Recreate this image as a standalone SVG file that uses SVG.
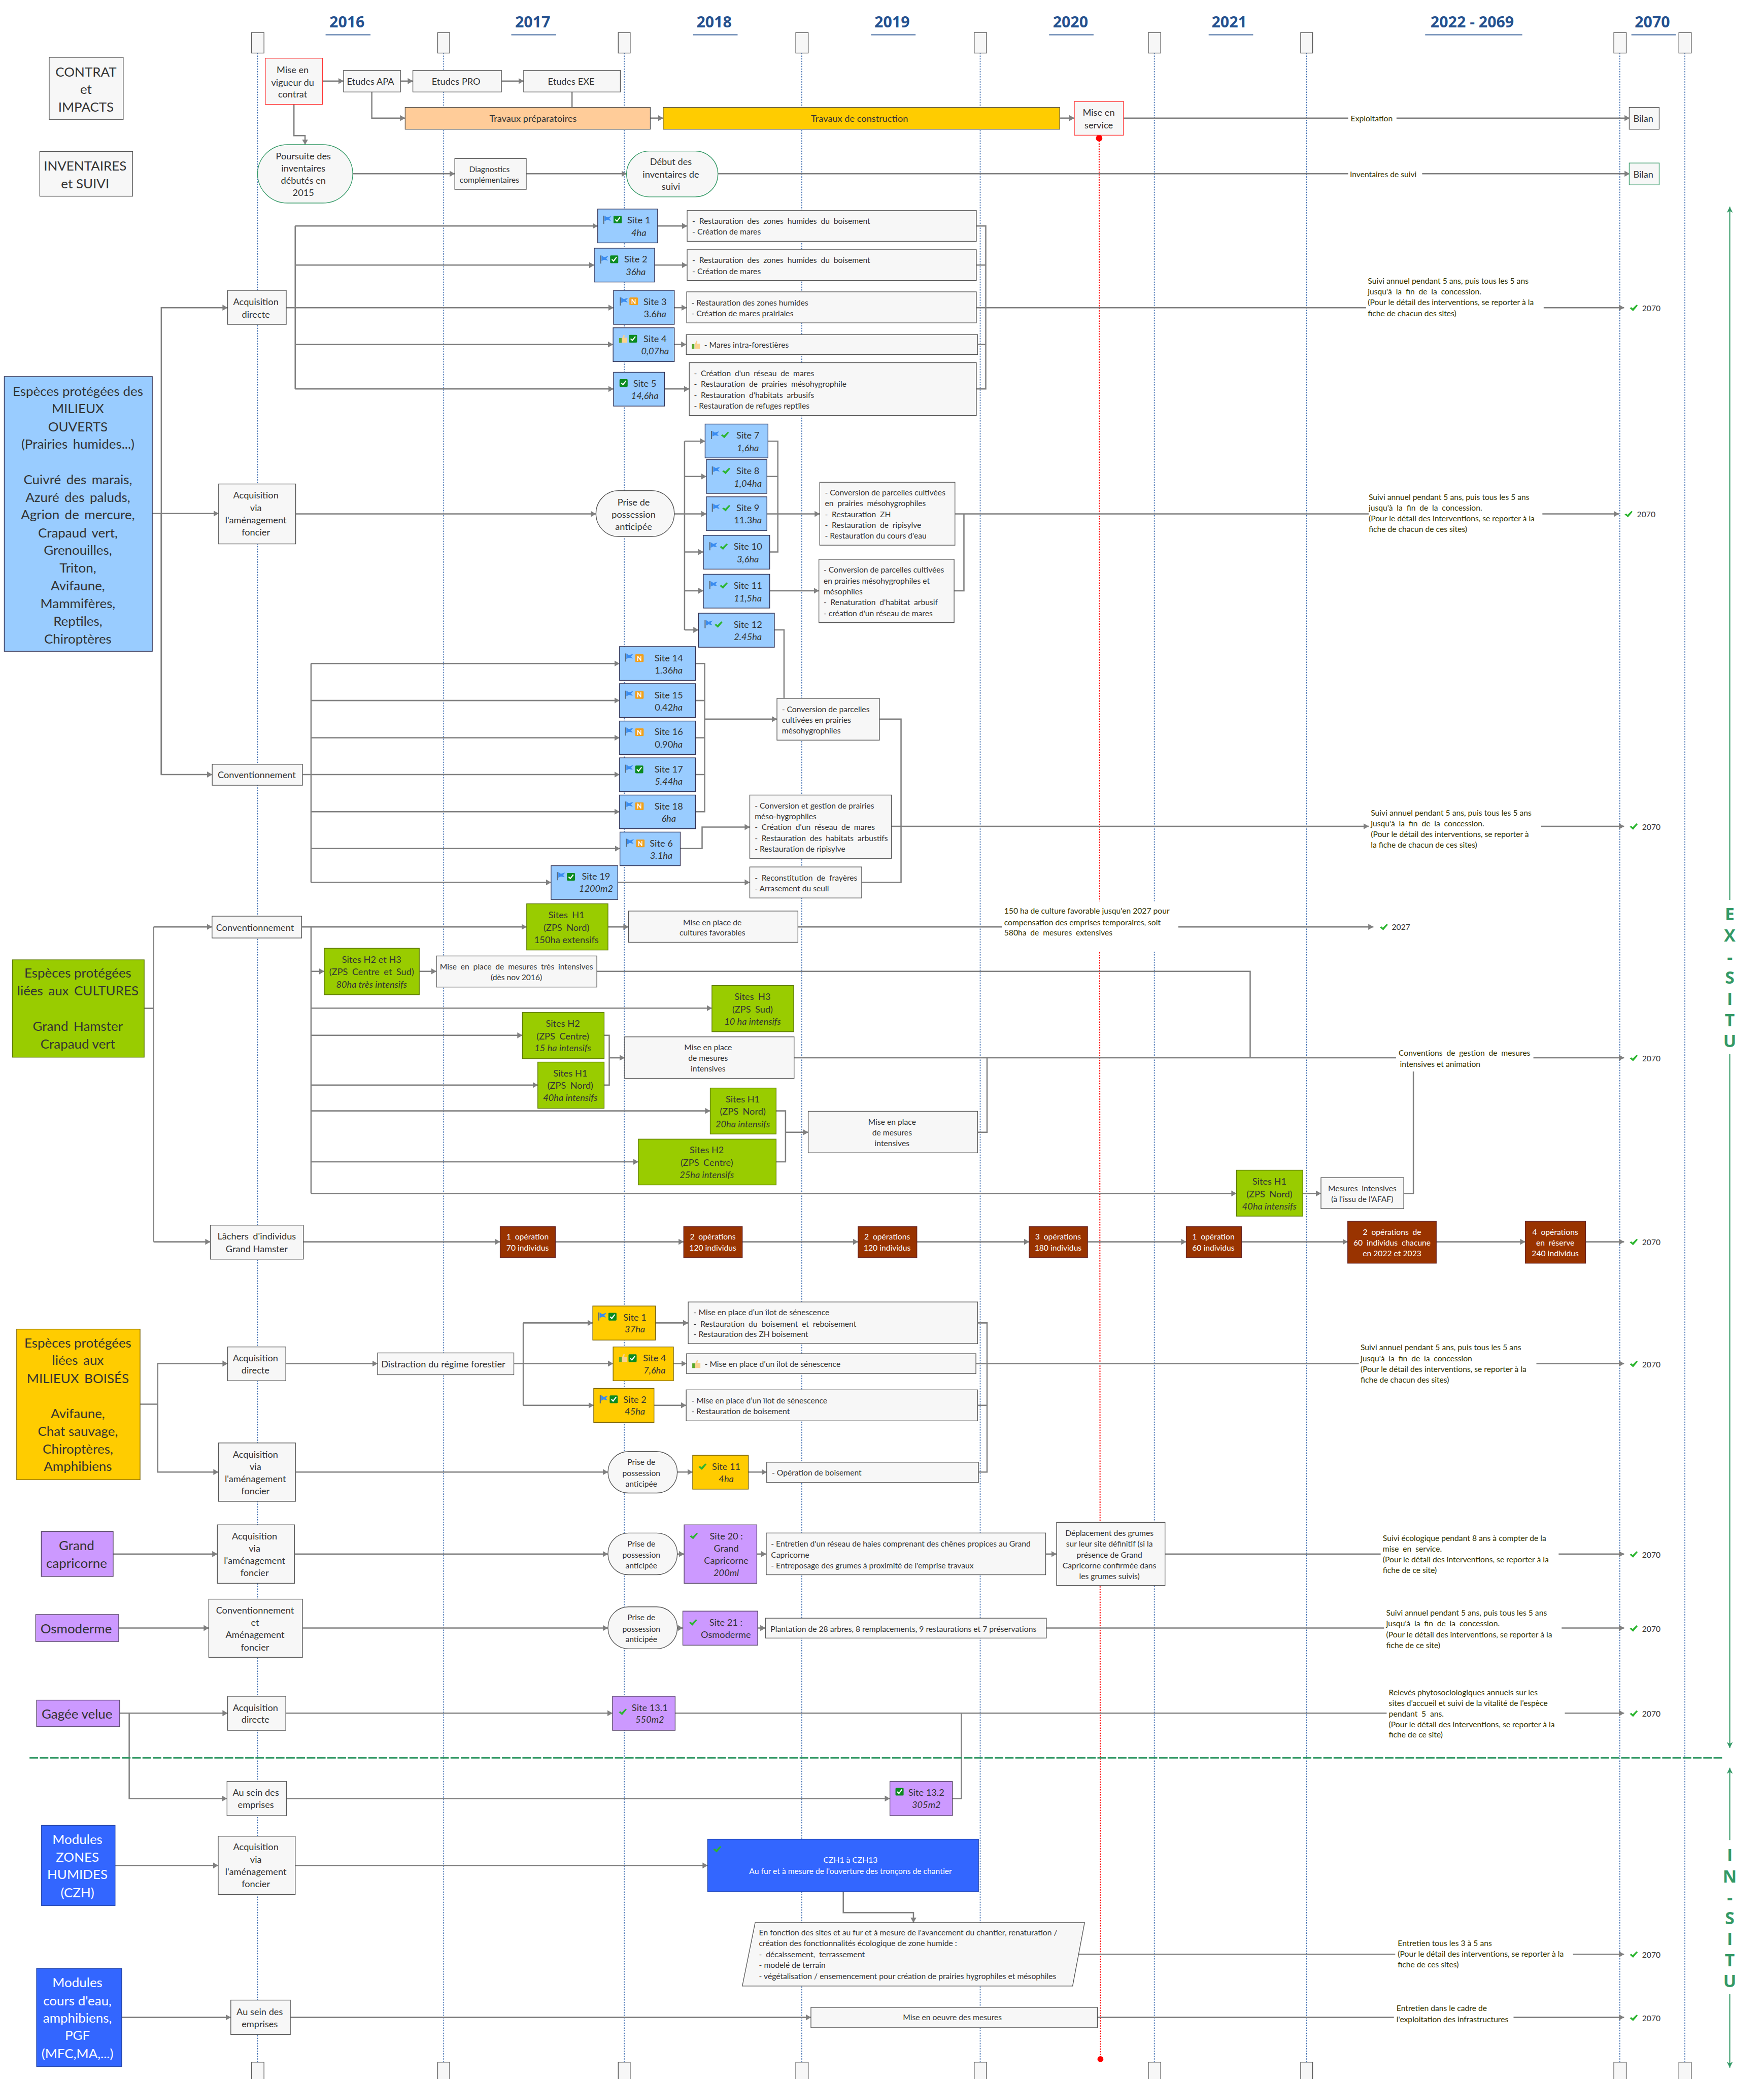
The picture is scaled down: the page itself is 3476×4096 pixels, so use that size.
<svg xmlns="http://www.w3.org/2000/svg" width="3476" height="4096" viewBox="0 0 3476 4096">
<style>
text{font-family:Lato,"Open Sans",sans-serif;fill:#333}
.f36{font-family:"Open Sans",sans-serif;font-size:36px;font-weight:700;fill:#24518f}
.f40{font-family:"Open Sans",sans-serif;font-size:40px;font-weight:700;fill:#339966}
.f31{font-size:30.8px}.f22{font-size:21.6px}.f19{font-size:18.6px}
.c{text-anchor:middle}.i{font-style:italic}.ws{word-spacing:4.5px}
text.w{fill:#fff}text.lab{fill:#330}
.b{fill:#f7f7f7;stroke:#555;stroke-width:1.6}
.g{stroke:#339966}.r{stroke:#f33}
.sb{fill:#99ccff;stroke:#335;stroke-width:1.6}
.sg{fill:#99cc00;stroke:#5d7a00;stroke-width:1.6}
.sy{fill:#ffcc00;stroke:#7a6200;stroke-width:1.6}
.sp{fill:#cc99ff;stroke:#546;stroke-width:1.6}
.sn{fill:#3366ff;stroke:#24a;stroke-width:1.6}
.so{fill:#993300;stroke:#622;stroke-width:1.6}
.ll{stroke:#3d6cb0;stroke-width:2;stroke-dasharray:3 3;fill:none}
.rl{stroke:#f00;stroke-width:2.4;stroke-dasharray:3 3;fill:none}
.k{fill:none;stroke:#808080;stroke-width:3}
.a{marker-end:url(#ar)}
.gl{fill:none;stroke:#339966;stroke-width:2.4}
.u{stroke:#24518f;stroke-width:2}
</style>
<defs>
<marker id="ar" markerUnits="userSpaceOnUse" markerWidth="13" markerHeight="16" refX="12" refY="8" orient="auto"><path d="M0,1L12,8L0,15z" fill="#808080"/></marker>
<marker id="ga" markerUnits="userSpaceOnUse" markerWidth="20" markerHeight="20" refX="16" refY="10" orient="auto"><path d="M2,3L16,10L2,17L6,10z" fill="#339966"/></marker>
<g id="flag"><path d="M1,0V19" stroke="#5a6a7a" stroke-width="2.5"/><path d="M3,0L9,4L19,1L14,7L18,12L9,10L3,13z" fill="#3a8cf0"/></g>
<g id="chk"><rect width="19" height="18" rx="2" fill="#0b8a20"/><path d="M4,9L8,13L15,4" fill="none" stroke="#fff" stroke-width="2.6"/></g>
<path id="tick" d="M0,8L4,6L7,9L16,0L19,2L8,15z" fill="#2bb52f"/>
<g id="nn"><rect width="20" height="18" rx="2" fill="#f0a020"/><text x="10" y="15" font-size="15" font-weight="700" text-anchor="middle" style="fill:#fff">N</text></g>
<g id="thumb"><rect y="8" width="6" height="11" fill="#5aa82c"/><path d="M7,8L11,0L13,1L12,7H19V19H7z" fill="#fbd28e"/></g>
</defs>
<rect width="3476" height="4096" fill="#fff"/>
<g transform="scale(0.84308)">
<g id="lifelines">
<path class="ll" d="M602,124V4819M1037,124V4819M1459,124V4819M1874,124V4819M2291,124V4819M2698,124V4819M3054,124V4819M3786,124V4819M3938,124V4819"/>
<path class="rl" d="M2569,323L2572,4812"/>
<ellipse cx="2569" cy="323" rx="7.5" ry="7.5" fill="#f00"/><ellipse cx="2572" cy="4812" rx="7" ry="7" fill="#f00"/>
<g class="b">
<rect x="588" y="76" width="29" height="48"/><rect x="1023" y="76" width="28" height="48"/><rect x="1445" y="76" width="28" height="48"/><rect x="1860" y="76" width="29" height="48"/><rect x="2277" y="76" width="29" height="48"/><rect x="2684" y="76" width="29" height="48"/><rect x="3040" y="76" width="28" height="48"/><rect x="3772" y="76" width="29" height="48"/><rect x="3924" y="76" width="29" height="48"/>
<rect x="588" y="4819" width="29" height="48"/><rect x="1023" y="4819" width="28" height="48"/><rect x="1445" y="4819" width="28" height="48"/><rect x="1860" y="4819" width="29" height="48"/><rect x="2277" y="4819" width="29" height="48"/><rect x="2684" y="4819" width="29" height="48"/><rect x="3040" y="4819" width="28" height="48"/><rect x="3772" y="4819" width="29" height="48"/><rect x="3924" y="4819" width="29" height="48"/>
</g>
</g>
<g id="years">
<text class="f36 c" x="811" y="64">2016</text><path class="u" d="M761,81.5H866"/>
<text class="f36 c" x="1245" y="64">2017</text><path class="u" d="M1195,81.5H1300"/>
<text class="f36 c" x="1669" y="64">2018</text><path class="u" d="M1620,81.5H1724"/>
<text class="f36 c" x="2085" y="64">2019</text><path class="u" d="M2036,81.5H2140"/>
<text class="f36 c" x="2502" y="64">2020</text><path class="u" d="M2452,81.5H2556"/>
<text class="f36 c" x="2873" y="64">2021</text><path class="u" d="M2825,81.5H2929"/>
<text class="f36 c" x="3441" y="64">2022 - 2069</text><path class="u" d="M3331,81.5H3558"/>
<text class="f36 c" x="3862" y="64">2070</text><path class="u" d="M3813,81.5H3917"/>
</g>
<g id="connectors">
<path class="k a" d="M754,189.5H803"/><path class="k a" d="M936,189.5H965"/><path class="k a" d="M1172,189.5H1224"/>
<path class="k a" d="M869,215V276H947"/><path class="k" d="M1337,215V251"/>
<path class="k a" d="M1520,276H1550"/><path class="k a" d="M2477,276H2511"/><path class="k" d="M2626,276H3151"/><path class="k a" d="M3264,276H3809"/>
<path class="k a" d="M687,244V317H713V338"/>
<path class="k a" d="M824,406H1063"/><path class="k a" d="M1230,406H1465"/><path class="k" d="M1678,406H3151"/><path class="k a" d="M3324,406H3809"/>
<path class="k a" d="M356,1200H511"/><path class="k a" d="M377,1810V719H532"/><path class="k a" d="M377,1200V1810H496"/>
<path class="k a" d="M690,528H1397"/><path class="k a" d="M690,619.5H1389"/><path class="k a" d="M669,719H1434"/><path class="k a" d="M690,805H1433"/><path class="k a" d="M690,909H1434"/><path class="k" d="M690,528V909"/>
<path class="k a" d="M1537,528H1606"/><path class="k a" d="M1530,619.5H1606"/><path class="k a" d="M1576,719H1605"/><path class="k a" d="M1576,805H1604"/><path class="k a" d="M1553,909H1611"/>
<path class="k" d="M2282,528H2304V909H2282M2282,619.5H2304M2285,805H2304"/><path class="k" d="M2282,719H3193"/><path class="k a" d="M3608,719H3796"/>
<path class="k a" d="M691,1201H1393"/>
<path class="k" d="M1576,1201H1600M1600,1031V1472"/>
<path class="k a" d="M1600,1031H1648"/><path class="k a" d="M1600,1113.5H1651"/><path class="k a" d="M1600,1201H1651"/><path class="k a" d="M1600,1290H1644"/><path class="k a" d="M1600,1380.5H1644"/><path class="k a" d="M1600,1472H1632.5"/>
<path class="k" d="M1795,1031H1818V1290H1799M1792.5,1113.5H1818"/><path class="k a" d="M1792.5,1201H1916"/><path class="k a" d="M1799,1380.5H1914"/>
<path class="k" d="M2232,1201H3199M2253,1201V1380.5H2230"/><path class="k a" d="M3605,1201H3784"/>
<path class="k" d="M727,1550.6V2062"/>
<path class="k a" d="M727,1550.6H1448"/><path class="k a" d="M727,1637H1448"/><path class="k a" d="M727,1724H1448"/><path class="k a" d="M707,1810H1448"/><path class="k a" d="M727,1897H1448"/><path class="k a" d="M727,1983H1449"/><path class="k a" d="M727,2062H1288"/>
<path class="k" d="M1625.5,1550.6H1647V1897H1625.5M1625.5,1637H1647M1625.5,1724H1647M1625.5,1810H1647"/><path class="k a" d="M1647,1680.5H1816"/>
<path class="k" d="M1810,1472H1832.5V1632"/>
<path class="k a" d="M1590,1983H1641V1932.8H1752.5"/><path class="k a" d="M1444,2062H1752.5"/>
<path class="k" d="M2055.5,1680.5H2106V2062H2014"/><path class="k a" d="M2083.6,1931H3199"/><path class="k a" d="M3602,1931H3796"/>
<path class="k" d="M337,2356.4H359M359,2166V2902"/><path class="k a" d="M359,2166H495.6"/><path class="k a" d="M359,2902H491.7"/>
<path class="k" d="M727,2166V2789"/>
<path class="k a" d="M705,2166H1231"/><path class="k a" d="M1421,2166H1469"/><path class="k" d="M1865,2166H2342"/><path class="k a" d="M2754,2166H3210"/>
<path class="k a" d="M727,2270H758"/><path class="k a" d="M980,2270H1020"/><path class="k" d="M1395,2270H2922V2472"/>
<path class="k a" d="M727,2356H1664"/><path class="k a" d="M727,2419.5H1221"/><path class="k a" d="M727,2535.6H1257"/>
<path class="k" d="M1412,2419.5H1424V2535.6H1412"/><path class="k a" d="M1424,2472H1460"/><path class="k" d="M1856,2472H3263"/><path class="k a" d="M3584,2472H3796"/>
<path class="k a" d="M727,2596H1660"/><path class="k a" d="M727,2715H1492"/><path class="k" d="M1814,2596H1836V2715H1814"/><path class="k a" d="M1836,2646H1889"/><path class="k" d="M2285,2646H2307V2472"/>
<path class="k a" d="M727,2789H2890"/><path class="k a" d="M3045,2789H3087.5"/><path class="k" d="M3281,2789H3303.5V2504"/>
<path class="k a" d="M709,2902H1169"/><path class="k a" d="M1298,2902H1598"/><path class="k a" d="M1735,2902H2005.6"/><path class="k a" d="M2143,2902H2405.5"/><path class="k a" d="M2542,2902H2772.6"/><path class="k a" d="M2901.5,2902H3150"/><path class="k a" d="M3357,2902H3565"/><path class="k a" d="M3706,2902H3796"/>
<path class="k" d="M327,3281.5H368.6"/><path class="k a" d="M368.6,3440V3186.5H532"/><path class="k a" d="M368.6,3281.5V3440H510.6"/>
<path class="k a" d="M668,3186.5H882.5"/><path class="k" d="M1223,3091.5V3284"/><path class="k a" d="M1223,3091.5H1385.5"/><path class="k a" d="M1201,3186.5H1433"/><path class="k a" d="M1223,3284H1387.7"/>
<path class="k a" d="M1532,3091.5H1608.5"/><path class="k a" d="M1574,3186.5H1604.7"/><path class="k a" d="M1528.6,3284H1603.8"/>
<path class="k" d="M2285,3091.5H2307V3440H2287M2285,3284H2307"/><path class="k" d="M2281,3186.5H3176"/><path class="k a" d="M3591,3186.5H3796"/>
<path class="k a" d="M690.6,3440H1421"/><path class="k a" d="M1583,3440H1619"/><path class="k a" d="M1749,3440H1792"/>
<path class="k a" d="M264.5,3631.6H508"/><path class="k a" d="M688.4,3631.6H1421"/><path class="k a" d="M1583,3631.6H1599"/><path class="k a" d="M1769,3631.6H1791"/><path class="k a" d="M2444,3631.6H2469.5"/><path class="k" d="M2723,3631.6H3227"/><path class="k a" d="M3643,3631.6H3796"/>
<path class="k a" d="M277.5,3804.5H488"/><path class="k a" d="M707,3804.5H1421"/><path class="k a" d="M1583,3804.5H1596"/><path class="k a" d="M1771,3804.5H1789"/><path class="k" d="M2445.6,3804.5H3235"/><path class="k a" d="M3650,3804.5H3796"/>
<path class="k a" d="M279.7,4003.5H532"/><path class="k a" d="M668,4003.5H1431.6"/><path class="k" d="M1578,4003.5H3241"/><path class="k a" d="M3657.4,4003.5H3796"/>
<path class="k" d="M2226,4203H2247V4003.5"/><path class="k a" d="M302,4003.5V4203H530.6"/><path class="k a" d="M669.6,4203H2080"/>
<path class="k a" d="M269,4359.4H510"/><path class="k a" d="M690,4359.4H1654"/><path class="k a" d="M1971,4420.7V4469.5H2135V4493"/>
<path class="k" d="M2520,4567H3261"/><path class="k a" d="M3676.6,4567H3796"/>
<path class="k a" d="M284.4,4714.4H539.5"/><path class="k a" d="M678.6,4714.4H1895.4"/><path class="k" d="M2565,4714.4H3258"/><path class="k a" d="M3537.6,4714.4H3796"/>
<path d="M69,4108H4027" fill="none" stroke="#339966" stroke-width="3.4" stroke-dasharray="20 4"/>
<path class="gl" style="marker-end:url(#ga)" d="M4043,2103V483"/>
<path class="gl" style="marker-end:url(#ga)" d="M4043,2463V4085"/>
<path class="gl" style="marker-end:url(#ga)" d="M4043,4300V4131"/>
<path class="gl" style="marker-end:url(#ga)" d="M4043,4660V4832"/>
<rect x="2342" y="2106" width="412" height="118" fill="#fff"/>
</g>
<g id="n-contrat"><rect class="b" x="115" y="134" width="173" height="145"/><text class="f31 c"><tspan x="201" y="178.6">CONTRAT</tspan><tspan x="201" y="220">et</tspan><tspan x="201" y="261.5">IMPACTS</tspan></text></g>
<g id="n-inventaires"><rect class="b" x="93" y="354" width="217" height="104.5"/><text class="f31 c"><tspan x="199" y="398.6">INVENTAIRES</tspan><tspan x="199" y="440">et SUIVI</tspan></text></g>
<g id="n-vigueur"><rect class="b r" x="620" y="136" width="134" height="108"/><text class="f22 c"><tspan x="684" y="171">Mise en</tspan><tspan x="684" y="200">vigueur du</tspan><tspan x="684" y="228">contrat</tspan></text></g>
<g id="n-apa"><rect class="b" x="803" y="164.5" width="133" height="50.5"/><text class="f22 c" x="866" y="198">Etudes APA</text></g>
<g id="n-pro"><rect class="b" x="965" y="164.5" width="207" height="50.5"/><text class="f22 c" x="1066" y="198">Etudes PRO</text></g>
<g id="n-exe"><rect class="b" x="1224" y="164.5" width="226" height="50.5"/><text class="f22 c" x="1335" y="198">Etudes EXE</text></g>
<g id="n-prep"><rect x="947" y="251" width="573" height="51" fill="#ffcc99" stroke="#555" stroke-width="1.6"/><text class="f22 c" x="1246" y="285">Travaux préparatoires</text></g>
<g id="n-constr"><rect x="1550" y="251" width="927" height="51" fill="#ffcc00" stroke="#555" stroke-width="1.6"/><text class="f22 c" x="2009" y="285">Travaux de construction</text></g>
<g id="n-service"><rect class="b r" x="2511" y="237" width="115" height="79"/><text class="f22 c"><tspan x="2568" y="271">Mise en</tspan><tspan x="2568" y="300">service</tspan></text></g>
<g id="n-bilan1"><rect class="b" x="3808" y="251" width="70" height="51"/><text class="f22 c" x="3841" y="285">Bilan</text></g>
<g id="n-exploit"><text class="f19 c lab" x="3206" y="284">Exploitation</text></g>
<g id="n-poursuite"><rect class="b g" x="602" y="338" width="222.5" height="136.5" rx="70"/><text class="f22 c"><tspan x="709" y="372">Poursuite des</tspan><tspan x="709" y="401">inventaires</tspan><tspan x="709" y="429">débutés en</tspan><tspan x="709" y="458">2015</tspan></text></g>
<g id="n-diag"><rect class="b" x="1063" y="370.5" width="167" height="72"/><text class="f19 c"><tspan x="1144" y="402">Diagnostics</tspan><tspan x="1144" y="427">complémentaires</tspan></text></g>
<g id="n-debut"><rect class="b g" x="1464.5" y="353" width="213.5" height="107" rx="53"/><text class="f22 c"><tspan x="1568" y="386">Début des</tspan><tspan x="1568" y="415">inventaires de</tspan><tspan x="1568" y="444">suivi</tspan></text></g>
<g id="n-invsuivi"><text class="f19 c lab" x="3233" y="414.5">Inventaires de suivi</text></g>
<g id="n-bilan2"><rect class="b g" x="3808" y="381" width="70" height="51"/><text class="f22 c" x="3841" y="415">Bilan</text></g>

<g id="n-ouverts"><rect class="sb" x="10" y="880" width="346" height="642"/><text class="f31 c"><tspan x="182" y="925">Espèces protégées des</tspan><tspan x="182" y="966">MILIEUX</tspan><tspan x="182" y="1008">OUVERTS</tspan><tspan class="ws" x="182" y="1049">(Prairies humides...)</tspan><tspan class="ws" x="182" y="1132">Cuivré des marais,</tspan><tspan class="ws" x="182" y="1173">Azuré des paluds,</tspan><tspan class="ws" x="182" y="1214">Agrion de mercure,</tspan><tspan class="ws" x="182" y="1256">Crapaud vert,</tspan><tspan x="182" y="1297">Grenouilles,</tspan><tspan x="182" y="1338">Triton,</tspan><tspan x="182" y="1380">Avifaune,</tspan><tspan x="182" y="1421">Mammifères,</tspan><tspan x="182" y="1462">Reptiles,</tspan><tspan x="182" y="1504">Chiroptères</tspan></text></g>
<g id="n-acq1"><rect class="b" x="532" y="678.5" width="137" height="79.5"/><text class="f22 c"><tspan x="598" y="713">Acquisition</tspan><tspan x="598" y="742">directe</tspan></text></g>
<g id="n-site1"><rect class="sb" x="1397" y="488.5" width="140" height="79"/><use href="#flag" x="1410" y="504"/><use href="#chk" x="1434" y="504"/><text class="f22 c"><tspan x="1493" y="522">Site 1</tspan><tspan class="i" x="1493" y="551">4ha</tspan></text></g>
<g id="n-site2"><rect class="sb" x="1389" y="580" width="141" height="79"/><use href="#flag" x="1403" y="597"/><use href="#chk" x="1426" y="597"/><text class="f22 c"><tspan x="1486" y="613.5">Site 2</tspan><tspan class="i" x="1486" y="643">36ha</tspan></text></g>
<g id="n-site3"><rect class="sb" x="1434" y="678.5" width="142" height="79.5"/><use href="#flag" x="1449" y="695"/><use href="#nn" x="1471" y="695"/><text class="f22 c"><tspan x="1531" y="713">Site 3</tspan><tspan x="1531" y="741">3.6<tspan class="i">ha</tspan></tspan></text></g>
<g id="n-site4"><rect class="sb" x="1433" y="766" width="143" height="79"/><use href="#thumb" x="1447" y="782"/><use href="#chk" x="1470" y="782.5"/><text class="f22 c"><tspan x="1531" y="800">Site 4</tspan><tspan class="i" x="1531" y="828">0,07ha</tspan></text></g>
<g id="n-site5"><rect class="sb" x="1434" y="870" width="119" height="79"/><use href="#chk" x="1448" y="886"/><text class="f22 c"><tspan x="1507" y="904">Site 5</tspan><tspan class="i" x="1507" y="932">14,6ha</tspan></text></g>
<g id="n-b1"><rect class="b" x="1606" y="492" width="676" height="72"/><text class="f19"><tspan class="ws" x="1618" y="523">- Restauration des zones humides du boisement</tspan><tspan x="1618" y="548.5">- Création de mares</tspan></text></g>
<g id="n-b2"><rect class="b" x="1606" y="583.5" width="676" height="72"/><text class="f19"><tspan class="ws" x="1618" y="615">- Restauration des zones humides du boisement</tspan><tspan x="1618" y="641">- Création de mares</tspan></text></g>
<g id="n-b3"><rect class="b" x="1605" y="682" width="677" height="72.5"/><text class="f19"><tspan x="1616" y="714">- Restauration des zones humides</tspan><tspan x="1616" y="739">- Création de mares prairiales</tspan></text></g>
<g id="n-b4"><rect class="b" x="1604" y="782" width="681" height="46.5"/><use href="#thumb" x="1617" y="796"/><text class="f19" x="1646" y="813">- Mares intra-forestières</text></g>
<g id="n-b5"><rect class="b" x="1611" y="847.5" width="671" height="123.5"/><text class="f19"><tspan class="ws" x="1622" y="879">- Création d'un réseau de mares</tspan><tspan class="ws" x="1622" y="904">- Restauration de prairies mésohygrophile</tspan><tspan class="ws" x="1622" y="930">- Restauration d'habitats arbusifs</tspan><tspan x="1622" y="955">- Restauration de refuges reptiles</tspan></text></g>
<g id="n-note1"><text class="f19 lab"><tspan x="3197" y="663">Suivi annuel pendant 5 ans, puis tous les 5 ans</tspan><tspan class="ws" x="3197" y="688">jusqu'à la fin de la concession.</tspan><tspan x="3197" y="713">(Pour le détail des interventions, se reporter à la</tspan><tspan x="3197" y="738.5">fiche de chacun des sites)</tspan></text></g>
<g id="n-end1"><use href="#tick" x="3809" y="712"/><text class="f19" x="3838" y="727">2070</text></g>

<g id="n-acq2"><rect class="b" x="511" y="1131" width="180" height="140"/><text class="f22 c"><tspan x="598" y="1165">Acquisition</tspan><tspan x="598" y="1194">via</tspan><tspan x="598" y="1223">l'aménagement</tspan><tspan x="598" y="1251">foncier</tspan></text></g>
<g id="n-prise1"><rect class="b" x="1393" y="1146.6" width="183" height="107.4" rx="53"/><text class="f22 c"><tspan x="1481" y="1181">Prise de</tspan><tspan x="1481" y="1210">possession</tspan><tspan x="1481" y="1238">anticipée</tspan></text></g>
<g id="n-site7"><rect class="sb" x="1648" y="991" width="147" height="79"/><use href="#flag" x="1662" y="1007"/><use href="#tick" x="1685" y="1009"/><text class="f22 c"><tspan x="1748" y="1025">Site 7</tspan><tspan class="i" x="1748" y="1054">1,6ha</tspan></text></g>
<g id="n-site8"><rect class="sb" x="1651" y="1074" width="141.5" height="79"/><use href="#flag" x="1664" y="1090"/><use href="#tick" x="1688" y="1093"/><text class="f22 c"><tspan x="1748" y="1108">Site 8</tspan><tspan class="i" x="1748" y="1137">1,04ha</tspan></text></g>
<g id="n-site9"><rect class="sb" x="1651" y="1161" width="141.5" height="79"/><use href="#flag" x="1664" y="1177"/><use href="#tick" x="1688" y="1180"/><text class="f22 c"><tspan x="1748" y="1194">Site 9</tspan><tspan x="1748" y="1223.5">11.3<tspan class="i">ha</tspan></tspan></text></g>
<g id="n-site10"><rect class="sb" x="1644" y="1251" width="155" height="79"/><use href="#flag" x="1658" y="1267"/><use href="#tick" x="1682" y="1270"/><text class="f22 c"><tspan x="1748" y="1285">Site 10</tspan><tspan class="i" x="1748" y="1314.5">3,6ha</tspan></text></g>
<g id="n-site11"><rect class="sb" x="1644" y="1342" width="155" height="79"/><use href="#flag" x="1658" y="1358"/><use href="#tick" x="1682" y="1361"/><text class="f22 c"><tspan x="1748" y="1376">Site 11</tspan><tspan class="i" x="1748" y="1405">11,5ha</tspan></text></g>
<g id="n-site12"><rect class="sb" x="1632.5" y="1433" width="177.5" height="79.5"/><use href="#flag" x="1647" y="1449"/><use href="#tick" x="1670" y="1452"/><text class="f22 c"><tspan x="1748" y="1467">Site 12</tspan><tspan class="i" x="1748" y="1495.6">2.45ha</tspan></text></g>
<g id="n-c1"><rect class="b" x="1916" y="1127" width="316" height="147"/><text class="f19"><tspan x="1928" y="1157.6">- Conversion de parcelles cultivées</tspan><tspan class="ws" x="1928" y="1182.5">en prairies mésohygrophiles</tspan><tspan class="ws" x="1928" y="1209">- Restauration ZH</tspan><tspan class="ws" x="1928" y="1234">- Restauration de ripisylve</tspan><tspan x="1928" y="1259">- Restauration du cours d'eau</tspan></text></g>
<g id="n-c2"><rect class="b" x="1914" y="1307" width="316" height="148"/><text class="f19"><tspan x="1925" y="1338">- Conversion de parcelles cultivées</tspan><tspan x="1925" y="1364">en prairies mésohygrophiles et</tspan><tspan x="1925" y="1388.6">mésophiles</tspan><tspan class="ws" x="1925" y="1413.5">- Renaturation d'habitat arbusif</tspan><tspan x="1925" y="1440">- création d'un réseau de mares</tspan></text></g>
<g id="n-note2"><text class="f19 lab"><tspan x="3199" y="1168">Suivi annuel pendant 5 ans, puis tous les 5 ans</tspan><tspan class="ws" x="3199" y="1193">jusqu'à la fin de la concession.</tspan><tspan x="3199" y="1218">(Pour le détail des interventions, se reporter à la</tspan><tspan x="3199" y="1243">fiche de chacun de ces sites)</tspan></text></g>
<g id="n-end2"><use href="#tick" x="3797" y="1194"/><text class="f19" x="3826" y="1209">2070</text></g>

<g id="n-conv1"><rect class="b" x="496" y="1786" width="211" height="49"/><text class="f22 c" x="600" y="1818">Conventionnement</text></g>
<g id="n-site14"><rect class="sb" x="1448" y="1511" width="177.5" height="79"/><use href="#flag" x="1461" y="1527"/><use href="#nn" x="1484.5" y="1529"/><text class="f22 c"><tspan x="1563" y="1545">Site 14</tspan><tspan x="1563" y="1574">1.36<tspan class="i">ha</tspan></tspan></text></g>
<g id="n-site15"><rect class="sb" x="1448" y="1597.6" width="177.5" height="79"/><use href="#flag" x="1461" y="1614"/><use href="#nn" x="1484.5" y="1615"/><text class="f22 c"><tspan x="1563" y="1632">Site 15</tspan><tspan x="1563" y="1660.7">0.42<tspan class="i">ha</tspan></tspan></text></g>
<g id="n-site16"><rect class="sb" x="1448" y="1685" width="177.5" height="78"/><use href="#flag" x="1461" y="1700"/><use href="#nn" x="1484.5" y="1702"/><text class="f22 c"><tspan x="1563" y="1718">Site 16</tspan><tspan x="1563" y="1747">0.90<tspan class="i">ha</tspan></tspan></text></g>
<g id="n-site17"><rect class="sb" x="1448" y="1771" width="177.5" height="79"/><use href="#flag" x="1461" y="1787"/><use href="#chk" x="1484.5" y="1789"/><text class="f22 c"><tspan x="1563" y="1805">Site 17</tspan><tspan class="i" x="1563" y="1834">5.44ha</tspan></text></g>
<g id="n-site18"><rect class="sb" x="1448" y="1858" width="177.5" height="78.5"/><use href="#flag" x="1461" y="1873"/><use href="#nn" x="1484.5" y="1875"/><text class="f22 c"><tspan x="1563" y="1892">Site 18</tspan><tspan class="i" x="1563" y="1920">6ha</tspan></text></g>
<g id="n-site6"><rect class="sb" x="1449" y="1944.5" width="141" height="78.5"/><use href="#flag" x="1463" y="1960"/><use href="#nn" x="1486.6" y="1962"/><text class="f22 c"><tspan x="1545.5" y="1978">Site 6</tspan><tspan class="i" x="1545.5" y="2007">3.1ha</tspan></text></g>
<g id="n-site19"><rect class="sb" x="1288" y="2023" width="156" height="79"/><use href="#flag" x="1302" y="2038"/><use href="#chk" x="1325" y="2040"/><text class="f22 c"><tspan x="1393" y="2056">Site 19</tspan><tspan class="i" x="1393" y="2084.6">1200m2</tspan></text></g>
<g id="n-d1"><rect class="b" x="1816" y="1632" width="239.5" height="97.6"/><text class="f19"><tspan x="1827.5" y="1663.6">- Conversion de parcelles</tspan><tspan x="1827.5" y="1688.6">cultivées en prairies</tspan><tspan x="1827.5" y="1713.5">mésohygrophiles</tspan></text></g>
<g id="n-d2"><rect class="b" x="1752.5" y="1858" width="331" height="148"/><text class="f19"><tspan x="1764" y="1889.5">- Conversion et gestion de prairies</tspan><tspan x="1764" y="1914.5">méso-hygrophiles</tspan><tspan class="ws" x="1764" y="1939.4">- Création d'un réseau de mares</tspan><tspan class="ws" x="1764" y="1966">- Restauration des habitats arbustifs</tspan><tspan x="1764" y="1990.7">- Restauration de ripisylve</tspan></text></g>
<g id="n-d3"><rect class="b" x="1752.5" y="2026" width="261.5" height="72.5"/><text class="f19"><tspan class="ws" x="1764" y="2057.5">- Reconstitution de frayères</tspan><tspan x="1764" y="2082.4">- Arrasement du seuil</tspan></text></g>
<g id="n-note3"><text class="f19 lab"><tspan x="3204" y="1906">Suivi annuel pendant 5 ans, puis tous les 5 ans</tspan><tspan class="ws" x="3204" y="1931">jusqu'à la fin de la concession.</tspan><tspan x="3204" y="1956">(Pour le détail des interventions, se reporter à</tspan><tspan x="3204" y="1981">la fiche de chacun de ces sites)</tspan></text></g>
<g id="n-end3"><use href="#tick" x="3809" y="1924"/><text class="f19" x="3838" y="1939">2070</text></g>

<g id="n-cultures"><rect class="sg" x="29" y="2243" width="308" height="227.5"/><text class="f31 c"><tspan x="182" y="2285">Espèces protégées</tspan><tspan class="ws" x="182" y="2326">liées aux CULTURES</tspan><tspan class="ws" x="182" y="2409">Grand Hamster</tspan><tspan x="182" y="2451">Crapaud vert</tspan></text></g>
<g id="n-conv2"><rect class="b" x="495.6" y="2141" width="209.4" height="51"/><text class="f22 c" x="596" y="2175">Conventionnement</text></g>
<g id="n-h1a"><rect class="sg" x="1231" y="2112" width="190" height="108"/><text class="f22 c"><tspan class="ws" x="1324" y="2146">Sites H1</tspan><tspan class="ws" x="1324" y="2175">(ZPS Nord)</tspan><tspan x="1324" y="2204">150ha extensifs</tspan></text></g>
<g id="n-cultfav"><rect class="b" x="1469" y="2129" width="396" height="73"/><text class="f19 c"><tspan x="1665" y="2162">Mise en place de</tspan><tspan x="1665" y="2186">cultures favorables</tspan></text></g>
<g id="n-note4"><text class="f19 lab"><tspan x="2347" y="2135">150 ha de culture favorable jusqu'en 2027 pour</tspan><tspan x="2347" y="2162">compensation des emprises temporaires, soit</tspan><tspan class="ws" x="2347" y="2186">580ha de mesures extensives</tspan></text></g>
<g id="n-end4"><use href="#tick" x="3225" y="2159"/><text class="f19" x="3253" y="2173">2027</text></g>
<g id="n-h23"><rect class="sg" x="758" y="2216" width="222" height="108.5"/><text class="f22 c"><tspan x="868.6" y="2250">Sites H2 et H3</tspan><tspan class="ws" x="868.6" y="2279">(ZPS Centre et Sud)</tspan><tspan class="i" x="868.6" y="2308.5">80ha très intensifs</tspan></text></g>
<g id="n-tresint"><rect class="b" x="1020" y="2234" width="375" height="72.6"/><text class="f19 c"><tspan class="ws" x="1207" y="2266">Mise en place de mesures très intensives</tspan><tspan x="1207" y="2291">(dès nov 2016)</tspan></text></g>
<g id="n-h3"><rect class="sg" x="1664" y="2303" width="191" height="108"/><text class="f22 c"><tspan class="ws" x="1759" y="2337">Sites H3</tspan><tspan class="ws" x="1759" y="2366">(ZPS Sud)</tspan><tspan class="i" x="1759" y="2395">10 ha intensifs</tspan></text></g>
<g id="n-h2a"><rect class="sg" x="1221" y="2366" width="191" height="108"/><text class="f22 c"><tspan x="1315.5" y="2400">Sites H2</tspan><tspan class="ws" x="1315.5" y="2429">(ZPS Centre)</tspan><tspan class="i" x="1315.5" y="2457">15 ha intensifs</tspan></text></g>
<g id="n-h1b"><rect class="sg" x="1257" y="2482" width="155" height="108"/><text class="f22 c"><tspan x="1333" y="2516">Sites H1</tspan><tspan class="ws" x="1333" y="2544.5">(ZPS Nord)</tspan><tspan class="i" x="1333" y="2573">40ha intensifs</tspan></text></g>
<g id="n-mes1"><rect class="b" x="1460" y="2423" width="396" height="97"/><text class="f19 c"><tspan x="1655" y="2454.6">Mise en place</tspan><tspan x="1655" y="2479.5">de mesures</tspan><tspan x="1655" y="2504">intensives</tspan></text></g>
<g id="n-note5"><text class="f19 lab"><tspan class="ws" x="3269" y="2467">Conventions de gestion de mesures</tspan><tspan x="3272" y="2493">intensives et animation</tspan></text></g>
<g id="n-end5"><use href="#tick" x="3809" y="2465"/><text class="f19" x="3838" y="2480">2070</text></g>
<g id="n-h1c"><rect class="sg" x="1660" y="2542.6" width="154" height="107.4"/><text class="f22 c"><tspan x="1736" y="2576">Sites H1</tspan><tspan class="ws" x="1736" y="2605">(ZPS Nord)</tspan><tspan class="i" x="1736" y="2634">20ha intensifs</tspan></text></g>
<g id="n-h2b"><rect class="sg" x="1492" y="2662" width="322" height="107"/><text class="f22 c"><tspan x="1652" y="2695">Sites H2</tspan><tspan class="ws" x="1652" y="2724">(ZPS Centre)</tspan><tspan class="i" x="1652" y="2753">25ha intensifs</tspan></text></g>
<g id="n-mes2"><rect class="b" x="1889" y="2597" width="396" height="97"/><text class="f19 c"><tspan x="2085" y="2629">Mise en place</tspan><tspan x="2085" y="2653.6">de mesures</tspan><tspan x="2085" y="2678.5">intensives</tspan></text></g>
<g id="n-h1d"><rect class="sg" x="2890" y="2734.6" width="155" height="107.4"/><text class="f22 c"><tspan x="2967" y="2768">Sites H1</tspan><tspan class="ws" x="2967" y="2798">(ZPS Nord)</tspan><tspan class="i" x="2967" y="2826">40ha intensifs</tspan></text></g>
<g id="n-afaf"><rect class="b" x="3087.5" y="2752" width="193.5" height="72.5"/><text class="f19 c"><tspan class="ws" x="3184" y="2784">Mesures intensives</tspan><tspan x="3184" y="2808.5">(à l'issu de l'AFAF)</tspan></text></g>
<g id="n-lachers"><rect class="b" x="491.7" y="2863" width="217.3" height="79.5"/><text class="f22 c"><tspan class="ws" x="600" y="2897">Lâchers d'individus</tspan><tspan x="600" y="2926">Grand Hamster</tspan></text></g>
<g id="n-op1"><rect class="so" x="1169" y="2866.6" width="129" height="72.4"/><text class="f19 c w"><tspan class="ws" x="1233" y="2897">1 opération</tspan><tspan x="1233" y="2923">70 individus</tspan></text></g>
<g id="n-op2"><rect class="so" x="1598" y="2866.6" width="137" height="72.4"/><text class="f19 c w"><tspan class="ws" x="1666" y="2897">2 opérations</tspan><tspan x="1666" y="2923">120 individus</tspan></text></g>
<g id="n-op3"><rect class="so" x="2005.6" y="2866.6" width="137.4" height="72.4"/><text class="f19 c w"><tspan class="ws" x="2073.5" y="2897">2 opérations</tspan><tspan x="2073.5" y="2923">120 individus</tspan></text></g>
<g id="n-op4"><rect class="so" x="2405.5" y="2866.6" width="136.5" height="72.4"/><text class="f19 c w"><tspan class="ws" x="2473" y="2897">3 opérations</tspan><tspan x="2473" y="2923">180 individus</tspan></text></g>
<g id="n-op5"><rect class="so" x="2772.6" y="2866.6" width="129" height="72.4"/><text class="f19 c w"><tspan class="ws" x="2836" y="2897">1 opération</tspan><tspan x="2836" y="2923">60 individus</tspan></text></g>
<g id="n-op6"><rect class="so" x="3150" y="2854" width="207" height="98"/><text class="f19 c w"><tspan class="ws" x="3253.6" y="2886">2 opérations de</tspan><tspan class="ws" x="3253.6" y="2911">60 individus chacune</tspan><tspan x="3253.6" y="2935.5">en 2022 et 2023</tspan></text></g>
<g id="n-op7"><rect class="so" x="3565" y="2854" width="141" height="98"/><text class="f19 c w"><tspan class="ws" x="3635" y="2886">4 opérations</tspan><tspan class="ws" x="3635" y="2911">en réserve</tspan><tspan x="3635" y="2935.5">240 individus</tspan></text></g>
<g id="n-end6"><use href="#tick" x="3809" y="2895"/><text class="f19" x="3838" y="2910">2070</text></g>

<g id="n-boises"><rect class="sy" x="39" y="3106" width="288.4" height="352"/><text class="f31 c"><tspan x="182" y="3149">Espèces protégées</tspan><tspan class="ws" x="182" y="3190">liées aux</tspan><tspan class="ws" x="182" y="3232">MILIEUX BOISÉS</tspan><tspan x="182" y="3314">Avifaune,</tspan><tspan x="182" y="3355">Chat sauvage,</tspan><tspan x="182" y="3397">Chiroptères,</tspan><tspan x="182" y="3438">Amphibiens</tspan></text></g>
<g id="n-acq3"><rect class="b" x="532" y="3147.6" width="136" height="79.1"/><text class="f22 c"><tspan x="597" y="3181">Acquisition</tspan><tspan x="597" y="3209.4">directe</tspan></text></g>
<g id="n-distraction"><rect class="b" x="882.5" y="3161.6" width="318.5" height="51"/><text class="f22 c" x="1036" y="3195">Distraction du régime forestier</text></g>
<g id="n-bs1"><rect class="sy" x="1385.5" y="3052" width="146.5" height="79.6"/><use href="#flag" x="1398.5" y="3067"/><use href="#chk" x="1422" y="3068"/><text class="f22 c"><tspan x="1484" y="3086">Site 1</tspan><tspan class="i" x="1484" y="3114">37ha</tspan></text></g>
<g id="n-bs4"><rect class="sy" x="1433" y="3147.6" width="141" height="79.1"/><use href="#thumb" x="1447" y="3163.5"/><use href="#chk" x="1469" y="3165"/><text class="f22 c"><tspan x="1530" y="3181">Site 4</tspan><tspan class="i" x="1530" y="3209.4">7,6ha</tspan></text></g>
<g id="n-bs2"><rect class="sy" x="1387.7" y="3244.5" width="140.9" height="79.5"/><use href="#flag" x="1402" y="3260.5"/><use href="#chk" x="1425" y="3261"/><text class="f22 c"><tspan x="1484" y="3278">Site 2</tspan><tspan class="i" x="1484" y="3306">45ha</tspan></text></g>
<g id="n-e1"><rect class="b" x="1608.5" y="3042.6" width="676.5" height="97.4"/><text class="f19"><tspan x="1621" y="3073.6">- Mise en place d’un îlot de sénescence</tspan><tspan class="ws" x="1621" y="3100">- Restauration du boisement et reboisement</tspan><tspan x="1621" y="3124.6">- Restauration des ZH boisement</tspan></text></g>
<g id="n-e2"><rect class="b" x="1604.7" y="3163.5" width="676.3" height="46.5"/><use href="#thumb" x="1618" y="3178"/><text class="f19" x="1647" y="3194">- Mise en place d’un îlot de sénescence</text></g>
<g id="n-e3"><rect class="b" x="1603.8" y="3248" width="681.2" height="72.4"/><text class="f19"><tspan x="1616" y="3279.6">- Mise en place d’un îlot de sénescence</tspan><tspan x="1616" y="3304.5">- Restauration de boisement</tspan></text></g>
<g id="n-note6"><text class="f19 lab"><tspan x="3180" y="3155">Suivi annuel pendant 5 ans, puis tous les 5 ans</tspan><tspan class="ws" x="3180" y="3181">jusqu'à la fin de la concession</tspan><tspan x="3180" y="3205.6">(Pour le détail des interventions, se reporter à la</tspan><tspan x="3180" y="3230.5">fiche de chacun des sites)</tspan></text></g>
<g id="n-end7"><use href="#tick" x="3809" y="3180"/><text class="f19" x="3838" y="3195">2070</text></g>
<g id="n-acq4"><rect class="b" x="510.6" y="3372" width="180" height="136.5"/><text class="f22 c"><tspan x="597" y="3406.5">Acquisition</tspan><tspan x="597" y="3435">via</tspan><tspan x="597" y="3464">l'aménagement</tspan><tspan x="597" y="3492">foncier</tspan></text></g>
<g id="n-prise2"><rect class="b" x="1421" y="3392" width="162" height="97" rx="48"/><text class="f19 c"><tspan x="1499" y="3423">Prise de</tspan><tspan x="1499" y="3449">possession</tspan><tspan x="1499" y="3474">anticipée</tspan></text></g>
<g id="n-bs11"><rect class="sy" x="1619" y="3400.8" width="130" height="79.2"/><use href="#tick" x="1632.5" y="3420"/><text class="f22 c"><tspan x="1697.5" y="3435">Site 11</tspan><tspan class="i" x="1697.5" y="3463">4ha</tspan></text></g>
<g id="n-e4"><rect class="b" x="1792" y="3417" width="495" height="47.5"/><text class="f19" x="1804" y="3448.6">- Opération de boisement</text></g>

<g id="n-capricorne"><rect class="sp" x="96.5" y="3579" width="168" height="105"/><text class="f31 c"><tspan x="179" y="3623">Grand</tspan><tspan x="179" y="3664">capricorne</tspan></text></g>
<g id="n-acq5"><rect class="b" x="508" y="3563.4" width="180.4" height="136.6"/><text class="f22 c"><tspan x="595" y="3598">Acquisition</tspan><tspan x="595" y="3626.5">via</tspan><tspan x="595" y="3655">l'aménagement</tspan><tspan x="595" y="3683">foncier</tspan></text></g>
<g id="n-prise3"><rect class="b" x="1421" y="3582.5" width="162" height="97.5" rx="48"/><text class="f19 c"><tspan x="1499" y="3614">Prise de</tspan><tspan x="1499" y="3640">possession</tspan><tspan x="1499" y="3665.4">anticipée</tspan></text></g>
<g id="n-site20"><rect class="sp" x="1599" y="3563.4" width="170" height="136.6"/><use href="#tick" x="1612" y="3582"/><text class="f22 c"><tspan x="1697.5" y="3597">Site 20 :</tspan><tspan x="1697.5" y="3626">Grand</tspan><tspan x="1697.5" y="3655">Capricorne</tspan><tspan class="i" x="1697.5" y="3683">200ml</tspan></text></g>
<g id="n-f1"><rect class="b" x="1791" y="3582.5" width="653" height="97.5"/><text class="f19"><tspan x="1802" y="3614">- Entretien d'un réseau de haies comprenant des chênes propices au Grand</tspan><tspan x="1802" y="3640">Capricorne</tspan><tspan x="1802" y="3665">- Entreposage des grumes à proximité de l'emprise travaux</tspan></text></g>
<g id="n-f2"><rect class="b" x="2469.5" y="3557.7" width="253.5" height="147.3"/><text class="f19 c"><tspan x="2593" y="3589">Déplacement des grumes</tspan><tspan x="2593" y="3614">sur leur site définitif (si la</tspan><tspan x="2593" y="3640">présence de Grand</tspan><tspan x="2593" y="3665">Capricorne confirmée dans</tspan><tspan x="2593" y="3690">les grumes suivis)</tspan></text></g>
<g id="n-note7"><text class="f19 lab"><tspan x="3232" y="3601">Suivi écologique pendant 8 ans à compter de la</tspan><tspan class="ws" x="3232" y="3626">mise en service.</tspan><tspan x="3232" y="3651">(Pour le détail des interventions, se reporter à la</tspan><tspan x="3232" y="3675.6">fiche de ce site)</tspan></text></g>
<g id="n-end8"><use href="#tick" x="3809" y="3625"/><text class="f19" x="3838" y="3640">2070</text></g>

<g id="n-osmoderme"><rect class="sp" x="83.5" y="3773" width="194" height="63"/><text class="f31 c" x="178" y="3817">Osmoderme</text></g>
<g id="n-convam"><rect class="b" x="488" y="3737" width="219" height="136"/><text class="f22 c"><tspan x="596" y="3770.7">Conventionnement</tspan><tspan x="596" y="3799">et</tspan><tspan x="596" y="3828">Aménagement</tspan><tspan x="596" y="3857">foncier</tspan></text></g>
<g id="n-prise4"><rect class="b" x="1421" y="3755" width="162" height="97.9" rx="48"/><text class="f19 c"><tspan x="1499" y="3786.6">Prise de</tspan><tspan x="1499" y="3813">possession</tspan><tspan x="1499" y="3837.6">anticipée</tspan></text></g>
<g id="n-site21"><rect class="sp" x="1596" y="3765" width="175" height="79.6"/><use href="#tick" x="1610.5" y="3784"/><text class="f22 c"><tspan x="1696.6" y="3799">Site 21 :</tspan><tspan x="1696.6" y="3828">Osmoderme</tspan></text></g>
<g id="n-f3"><rect class="b" x="1789" y="3781.5" width="656.6" height="46.5"/><text class="f19" x="1801" y="3813.4">Plantation de 28 arbres, 8 remplacements, 9 restaurations et 7 préservations</text></g>
<g id="n-note8"><text class="f19 lab"><tspan x="3240" y="3775">Suivi annuel pendant 5 ans, puis tous les 5 ans</tspan><tspan class="ws" x="3240" y="3800">jusqu'à la fin de la concession.</tspan><tspan x="3240" y="3826">(Pour le détail des interventions, se reporter à la</tspan><tspan x="3240" y="3851">fiche de ce site)</tspan></text></g>
<g id="n-end9"><use href="#tick" x="3809" y="3798"/><text class="f19" x="3838" y="3813">2070</text></g>

<g id="n-gagee"><rect class="sp" x="85.6" y="3973" width="194.1" height="62"/><text class="f31 c" x="180" y="4016">Gagée velue</text></g>
<g id="n-acq6"><rect class="b" x="532" y="3964" width="136" height="79.6"/><text class="f22 c"><tspan x="597" y="3998">Acquisition</tspan><tspan x="597" y="4026">directe</tspan></text></g>
<g id="n-site131"><rect class="sp" x="1431.6" y="3964" width="146.4" height="79.6"/><use href="#tick" x="1446" y="3993"/><text class="f22 c"><tspan x="1518.6" y="3998.4">Site 13.1</tspan><tspan class="i" x="1518.6" y="4026">550m2</tspan></text></g>
<g id="n-note9"><text class="f19 lab"><tspan x="3246" y="3962">Relevés phytosociologiques annuels sur les</tspan><tspan x="3246" y="3987">sites d’accueil et suivi de la vitalité de l’espèce</tspan><tspan class="ws" x="3246" y="4012">pendant 5 ans.</tspan><tspan x="3246" y="4036.6">(Pour le détail des interventions, se reporter à la</tspan><tspan x="3246" y="4060">fiche de ce site)</tspan></text></g>
<g id="n-end10"><use href="#tick" x="3809" y="3997"/><text class="f19" x="3838" y="4012">2070</text></g>
<g id="n-ausein1"><rect class="b" x="530.6" y="4163" width="139" height="80"/><text class="f22 c"><tspan x="598" y="4197">Au sein des</tspan><tspan x="598" y="4225">emprises</tspan></text></g>
<g id="n-site132"><rect class="sp" x="2080" y="4163" width="146" height="80"/><use href="#chk" x="2093" y="4178"/><text class="f22 c"><tspan x="2165" y="4197">Site 13.2</tspan><tspan class="i" x="2165" y="4225">305m2</tspan></text></g>

<g id="n-czh"><rect class="sn" x="97" y="4265.7" width="172" height="187.3"/><text class="f31 c w"><tspan x="181" y="4309.5">Modules</tspan><tspan x="181" y="4350.6">ZONES</tspan><tspan x="181" y="4391">HUMIDES</tspan><tspan x="181" y="4434">(CZH)</tspan></text></g>
<g id="n-acq7"><rect class="b" x="510" y="4291" width="180" height="136.3"/><text class="f22 c"><tspan x="598" y="4324">Acquisition</tspan><tspan x="598" y="4353">via</tspan><tspan x="598" y="4382">l'aménagement</tspan><tspan x="598" y="4410">foncier</tspan></text></g>
<g id="n-czhbox"><rect class="sn" x="1654" y="4298" width="633" height="122.7"/><use href="#tick" x="1667" y="4314"/><text class="f19 c w"><tspan x="1988" y="4353">CZH1 à CZH13</tspan><tspan x="1988" y="4379">Au fur et à mesure de l'ouverture des tronçons de chantier</tspan></text></g>
<g id="n-para"><path class="b" d="M1765,4493H2535L2507,4641H1735z"/><text class="f19"><tspan x="1774" y="4523">En fonction des sites et au fur et à mesure de l'avancement du chantier, renaturation /</tspan><tspan x="1774" y="4548">création des fonctionnalités écologique de zone humide :</tspan><tspan class="ws" x="1774" y="4573.6">- décaissement, terrassement</tspan><tspan x="1774" y="4599">- modelé de terrain</tspan><tspan x="1774" y="4624.5">- végétalisation / ensemencement pour création de prairies hygrophiles et mésophiles</tspan></text></g>
<g id="n-note10"><text class="f19 lab"><tspan x="3267" y="4548">Entretien tous les 3 à 5 ans</tspan><tspan x="3267" y="4572.5">(Pour le détail des interventions, se reporter à la</tspan><tspan x="3267" y="4598">fiche de ces sites)</tspan></text></g>
<g id="n-end11"><use href="#tick" x="3809" y="4560"/><text class="f19" x="3838" y="4575">2070</text></g>
<g id="n-cours"><rect class="sn" x="85.5" y="4600" width="198.9" height="229"/><text class="f31 c w"><tspan x="181" y="4643.7">Modules</tspan><tspan x="181" y="4686">cours d'eau,</tspan><tspan x="181" y="4726.4">amphibiens,</tspan><tspan x="181" y="4767">PGF</tspan><tspan x="181" y="4809.7">(MFC,MA,...)</tspan></text></g>
<g id="n-ausein2"><rect class="b" x="539.5" y="4674" width="139.1" height="80.4"/><text class="f22 c"><tspan x="607" y="4709">Au sein des</tspan><tspan x="607" y="4737">emprises</tspan></text></g>
<g id="n-oeuvre"><rect class="b" x="1895.4" y="4691" width="669.6" height="47.5"/><text class="f19 c" x="2226" y="4721">Mise en oeuvre des mesures</text></g>
<g id="n-note11"><text class="f19 lab"><tspan x="3264" y="4700">Entretien dans le cadre de</tspan><tspan x="3264" y="4726">l'exploitation des infrastructures</tspan></text></g>
<g id="n-end12"><use href="#tick" x="3809" y="4708"/><text class="f19" x="3838" y="4723">2070</text></g>

<g id="n-exsitu"><text class="f40 c" x="4043" y="2151">E</text><text class="f40 c" x="4043" y="2200">X</text><text class="f40 c" x="4043" y="2251">-</text><text class="f40 c" x="4043" y="2299">S</text><text class="f40 c" x="4043" y="2349">I</text><text class="f40 c" x="4043" y="2398">T</text><text class="f40 c" x="4043" y="2447">U</text></g>
<g id="n-insitu"><text class="f40 c" x="4043" y="4349">I</text><text class="f40 c" x="4043" y="4399">N</text><text class="f40 c" x="4043" y="4449">-</text><text class="f40 c" x="4043" y="4497">S</text><text class="f40 c" x="4043" y="4545">I</text><text class="f40 c" x="4043" y="4595">T</text><text class="f40 c" x="4043" y="4644">U</text></g>
</g>
</svg>
